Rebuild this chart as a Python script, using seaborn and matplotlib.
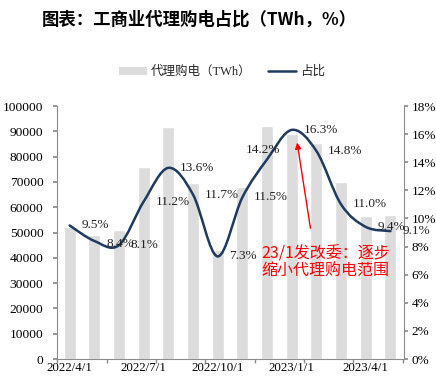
import numpy as np
import pandas as pd
import matplotlib
matplotlib.use('Agg')
import matplotlib.pyplot as plt
from matplotlib.path import Path
from matplotlib.patches import PathPatch, Patch
from matplotlib.lines import Line2D
import seaborn as sns

months = ['2022/4/1', '2022/5/1', '2022/6/1', '2022/7/1', '2022/8/1', '2022/9/1', '2022/10/1',
          '2022/11/1', '2022/12/1', '2023/1/1', '2023/2/1', '2023/3/1', '2023/4/1', '2023/5/1']
volume = [52200, 49000, 51000, 76000, 91800, 69500, 43000,
          68000, 92000, 89000, 85500, 70000, 56600, 57000]
share = [9.5, 8.4, 8.1, 11.2, 13.6, 11.7, 7.3, 11.5, 14.2, 16.3, 14.8, 11.0, 9.4, 9.1]
shown_ticks = ['2022/4/1', '2022/7/1', '2022/10/1', '2023/1/1', '2023/4/1']

sns.set_theme(style='white')
SERIF = ['Liberation Serif', 'Noto Sans CJK SC']
CJK = ['Noto Sans CJK SC', 'DejaVu Sans']
plt.rcParams['font.family'] = SERIF

BAR = '#DCDCDC'
NAVY = '#1F3A5F'
AX = '#8C8C8C'

df = pd.DataFrame({'month': months, 'volume': volume, 'share': share})

fig = plt.figure(figsize=(4.36, 3.77), dpi=100)
ax = fig.add_axes([0.1314, 0.0477, 0.7952, 0.6711])
sns.barplot(data=df, x='month', y='volume', order=months, color=BAR,
            width=0.49, saturation=1, ax=ax)
ax.set_xlim(-0.5, 13.55)
ax.set_ylim(0, 100000)
ax.set_yticks(np.arange(0, 100001, 10000))
ax.set_xlabel('')
ax.set_ylabel('')

pos = [months.index(m) for m in shown_ticks]
ax.set_xticks(pos)
ax.set_xticklabels(shown_ticks)
ax.set_xticks(np.arange(-0.5, 14, 2), minor=True)
# reference crops these labels at the bottom edge; keep them just inside the figure
ax.tick_params(axis='x', which='major', length=0, pad=2.5, labelsize=9.3, colors='black')
ax.tick_params(axis='x', which='minor', length=3, color=AX, direction='out', bottom=True)
ax.tick_params(axis='y', length=3, color=AX, direction='out', left=True, pad=7,
               labelsize=9.7, labelcolor='black')

for s in ['top', 'right']:
    ax.spines[s].set_visible(False)
for s in ['left', 'bottom']:
    ax.spines[s].set_color(AX)
    ax.spines[s].set_linewidth(0.8)

ax2 = ax.twinx()
ax2.set_ylim(0, 18)
ax2.set_yticks(np.arange(0, 18.1, 2))
ax2.set_yticklabels([f'{v:.0f}%' for v in np.arange(0, 18.1, 2)])
ax2.tick_params(axis='y', length=3, color=AX, direction='out', right=True, pad=2.5,
                labelsize=9.5, labelcolor='black')
for s in ['top', 'left', 'bottom']:
    ax2.spines[s].set_visible(False)
ax2.spines['right'].set_color(AX)
ax2.spines['right'].set_linewidth(0.8)
ax2.grid(False)
ax.grid(False)

# smoothed line (Catmull-Rom as cubic Bezier segments)
pts = np.column_stack([np.arange(len(share)), share]).astype(float)
ext = np.vstack([pts[0], pts, pts[-1]])
verts = [tuple(pts[0])]
codes = [Path.MOVETO]
for i in range(len(pts) - 1):
    p0, p1, p2, p3 = ext[i], ext[i + 1], ext[i + 2], ext[i + 3]
    c1 = p1 + (p2 - p0) / 6
    c2 = p2 - (p3 - p1) / 6
    verts += [tuple(c1), tuple(c2), tuple(p2)]
    codes += [Path.CURVE4] * 3
ax2.add_patch(PathPatch(Path(verts, codes), facecolor='none', edgecolor=NAVY,
                        lw=1.8, capstyle='round', zorder=3))

# data labels
for i, v in enumerate(share):
    if i == 8:
        ax2.annotate(f'{v:.1f}%', (i, v), xytext=(-3, 7), textcoords='offset points',
                     ha='center', va='center', fontsize=9.5, color='#222222')
    else:
        dy = -2 if i == 1 else 0
        ax2.annotate(f'{v:.1f}%', (i, v), xytext=(8.5, dy), textcoords='offset points',
                     ha='left', va='center', fontsize=9.5, color='#222222')

# policy annotation
ax2.annotate('', xy=(9.22, 15.4), xytext=(9.76, 9.3),
             arrowprops=dict(arrowstyle='-|>', color='#FF0000', lw=1.0,
                             mutation_scale=9, shrinkA=0, shrinkB=0))
ax2.text(10.37, 6.85, '23/1发改委：逐步\n缩小代理购电范围', ha='center', va='center',
         fontsize=11.5, color='#FF0000', family=CJK, linespacing=1.05)

# legend
handles = [Patch(facecolor=BAR, edgecolor='none'),
           Line2D([0], [0], color=NAVY, lw=1.8)]
fig.legend(handles, ['代理购电（TWh）', '占比'], loc='center', bbox_to_anchor=(0.509, 0.809),
           ncol=2, frameon=False, handlelength=2.2, handleheight=0.6,
           handletextpad=0.3, columnspacing=1.4, prop={'family': SERIF, 'size': 9})

fig.text(0.096, 0.947, '图表：工商业代理购电占比（TWh，%）', ha='left', va='center',
         fontsize=12.5, fontweight='bold', family=CJK, color='black')

fig.savefig('out.png', dpi=100)
